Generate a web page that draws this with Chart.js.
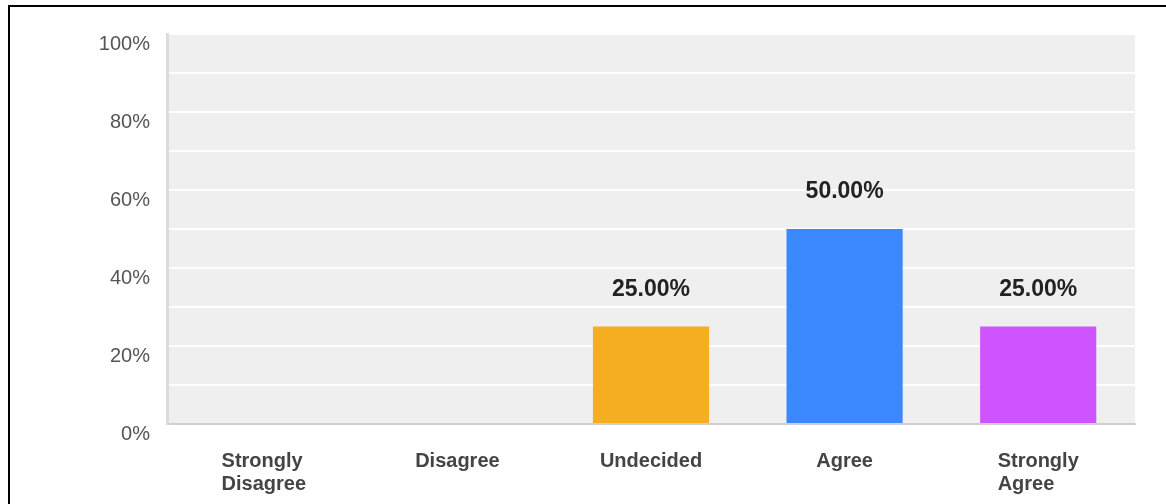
<!DOCTYPE html>
<html>
<head>
<meta charset="utf-8">
<title>Survey responses</title>
<script src="https://cdn.jsdelivr.net/npm/chart.js@4.4.1/dist/chart.umd.min.js"></script>
<style>
  body { margin: 0; background: #fff; }
  #frame {
    position: absolute; left: 8px; top: 5px; width: 1158px; height: 499px;
    border-top: 2px solid #000; border-left: 2px solid #000;
  }
  #surveyChart { position: absolute; left: 0; top: 0; }
</style>
</head>
<body>
<div id="frame"></div>
<canvas id="surveyChart" width="1166" height="504"></canvas>
<script>
// answer categories (multi-line labels) and share of responses in %
const categories = [["Strongly", "Disagree"], ["Disagree"], ["Undecided"], ["Agree"], ["Strongly", "Agree"]];
const percents = [0, 0, 25, 50, 25];
const barColors = ["#b0b0b0", "#b0b0b0", "#f5ae20", "#3b88fd", "#d054fe"];
const yMax = 100;
const yLabelStep = 20;

// grey plot background
const plotBackground = {
  id: 'plotBackground',
  beforeDraw(chart) {
    const a = chart.chartArea;
    const ctx = chart.ctx;
    ctx.save();
    ctx.fillStyle = '#efefef';
    ctx.fillRect(a.left, a.top, a.right - a.left, a.bottom - a.top);
    ctx.restore();
  }
};

// value above each bar
const valueLabels = {
  id: 'valueLabels',
  afterDatasetsDraw(chart) {
    const ctx = chart.ctx;
    const meta = chart.getDatasetMeta(0);
    ctx.save();
    ctx.font = 'bold 23px "Liberation Sans", Arial, sans-serif';
    ctx.fillStyle = '#222';
    ctx.textAlign = 'center';
    ctx.textBaseline = 'middle';
    meta.data.forEach((bar, i) => {
      if (percents[i] <= 0) return;
      ctx.fillText(percents[i].toFixed(2) + '%', bar.x, bar.y - 37);
    });
    ctx.restore();
  }
};

// category labels: block centred under the bar, lines left aligned
const categoryLabels = {
  id: 'categoryLabels',
  afterDraw(chart) {
    const ctx = chart.ctx;
    const xScale = chart.scales.x;
    ctx.save();
    ctx.font = 'bold 20px "Liberation Sans", Arial, sans-serif';
    ctx.fillStyle = '#444';
    ctx.textAlign = 'left';
    ctx.textBaseline = 'middle';
    categories.forEach((lines, i) => {
      const cx = xScale.getPixelForValue(i);
      const w = Math.max(...lines.map(l => ctx.measureText(l).width));
      lines.forEach((line, j) => {
        ctx.fillText(line, cx - w / 2, xScale.bottom - 43 + j * 23);
      });
    });
    ctx.restore();
  }
};

new Chart(document.getElementById('surveyChart'), {
  type: 'bar',
  data: {
    labels: categories,
    datasets: [{
      data: percents,
      backgroundColor: barColors,
      barPercentage: 0.6,
      categoryPercentage: 1.0
    }]
  },
  options: {
    responsive: false,
    animation: false,
    events: [],
    layout: { padding: { top: 34, right: 31, bottom: 0, left: 0 } },
    plugins: {
      legend: { display: false },
      tooltip: { enabled: false }
    },
    scales: {
      x: {
        grid: { display: false },
        border: { color: '#cfcfcf', width: 2 },
        ticks: { display: false },
        afterFit(scale) { scale.height = 80; }
      },
      y: {
        min: 0,
        max: yMax,
        grid: { color: '#ffffff', lineWidth: 2, drawTicks: false },
        border: { color: '#dcdcdc', width: 3 },
        ticks: {
          stepSize: 10,
          padding: 17,
          labelOffset: 10,
          color: '#555',
          font: { family: '"Liberation Sans", Arial, sans-serif', size: 20 },
          callback: v => (v % yLabelStep === 0 ? v + '%' : '')
        },
        afterFit(scale) { scale.width = 167; }
      }
    }
  },
  plugins: [plotBackground, valueLabels, categoryLabels]
});
</script>
</body>
</html>
